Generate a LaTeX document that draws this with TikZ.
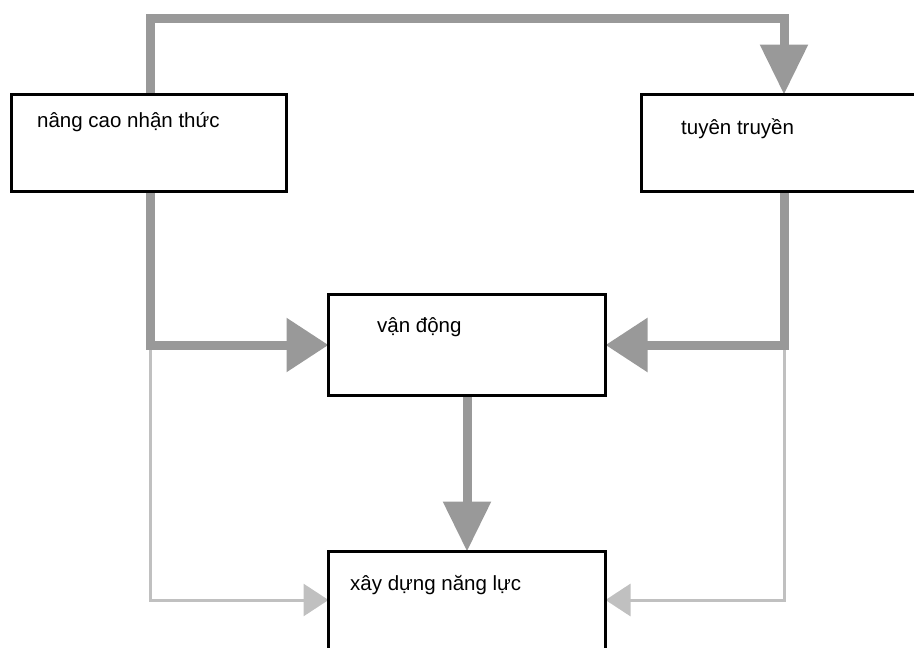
\documentclass[tikz,border=0pt]{standalone}
\usepackage{fontspec}
\setmainfont{Liberation Sans}
\usetikzlibrary{arrows.meta,backgrounds}

\definecolor{flowdark}{HTML}{999999}
\definecolor{flowlight}{HTML}{C0C0C0}

\tikzset{
  box/.style={draw=black, line width=3pt, fill=white, rectangle, inner sep=0pt,
    outer sep=0pt, anchor=north west},
  lbl/.style={anchor=base west, inner sep=0pt, font=\fontsize{20.5pt}{24pt}\selectfont},
  mainflow/.style={draw=flowdark, line width=9pt, line join=miter,
    -{Triangle[length=42pt,width=52pt]}},
  mainflowv/.style={mainflow, -{Triangle[length=50pt,width=46pt]}},
  sideflow/.style={draw=flowlight, line width=3pt, line join=miter,
    -{Triangle[length=25pt,width=32pt]}},
}

\begin{document}
\begin{tikzpicture}[x=1pt,y=-1pt]
  \useasboundingbox (0,0) rectangle (914,648);
  \clip (0,0) rectangle (914,648);

  % process boxes
  \node[box, minimum width=275pt, minimum height=97pt] (A) at (11.5,94.5) {};
  \node[box, minimum width=300pt, minimum height=97pt] (B) at (641.5,94.5) {};
  \node[box, minimum width=277pt, minimum height=101pt] (C) at (328.5,294.5) {};
  \node[box, minimum width=277pt, minimum height=130pt] (D) at (328.5,551.5) {};

  % box captions
  \node[lbl] (tA) at (37,127) {nâng cao nhận thức};
  \node[lbl] (tB) at (681,134) {tuyên truyền};
  \node[lbl] (tC) at (377,332) {vận động};
  \node[lbl] (tD) at (350,590) {xây dựng năng lực};

  % routing points
  \coordinate (tl) at (150,18);
  \coordinate (tr) at (784,18);
  \coordinate (jl) at (150,345);
  \coordinate (jr) at (784,345);
  \coordinate (bl) at (150,600);
  \coordinate (br) at (784,600);

  \begin{pgfonlayer}{background}
    % secondary flow
    \draw[sideflow] (jl) -- (bl) -- (bl -| D.west);
    \draw[sideflow] (jr) -- (br) -- (br -| D.east);
    % main flow
    \draw[mainflowv] (A.north -| tl) -- (tl) -- (tr) -- (B.north -| tr);
    \draw[mainflow] (A.south -| jl) -- (jl) -- (C.west);
    \draw[mainflow] (B.south -| jr) -- (jr) -- (C.east);
    \draw[mainflowv] (C.south) -- (D.north -| C.south);
  \end{pgfonlayer}
\end{tikzpicture}
\end{document}
